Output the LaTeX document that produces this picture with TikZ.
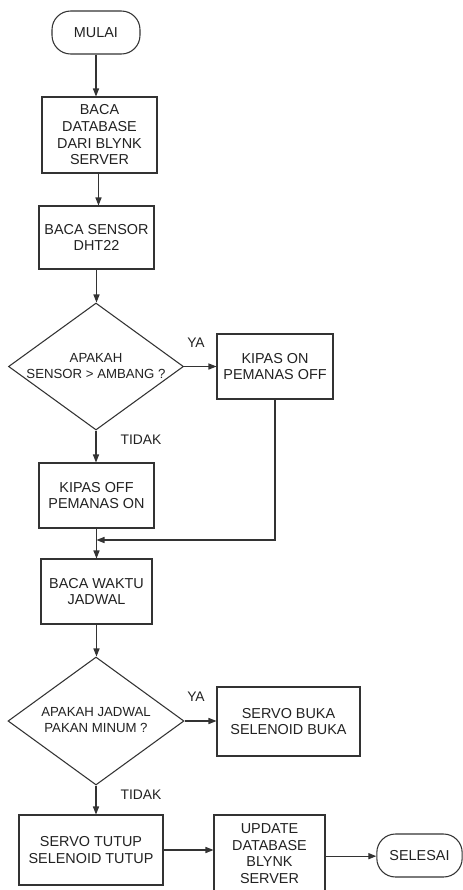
\documentclass[tikz,border=0pt]{standalone}
\usepackage{fontspec}
\setmainfont{Liberation Sans}
\usetikzlibrary{shapes.geometric,arrows.meta}
\definecolor{ln}{HTML}{333333}
\definecolor{tx}{HTML}{222222}
\tikzset{
  boxnode/.style={draw=ln, line width=0.8pt, rectangle, align=center, inner sep=0pt, text=tx, font=\fontsize{10.8}{12.5}\selectfont},
  termnode/.style={boxnode, rounded corners=14pt},
  decnode/.style={draw=ln, line width=0.8pt, diamond, inner sep=0pt},
  dectext/.style={align=center, inner sep=0pt, text=tx, font=\fontsize{9.9}{12.5}\selectfont},
  lbl/.style={inner sep=0pt, text=tx, font=\fontsize{10.4}{12.5}\selectfont},
  flow/.style={draw=ln, line width=0.8pt, -{Triangle[length=6pt,width=4.6pt]}}
}
\begin{document}
\begin{tikzpicture}[x=0.75pt,y=-0.75pt]
\fill[white] (0,0) rectangle (463,890);
\useasboundingbox (0,0) rectangle (463,890);
\clip (0,0) rectangle (463,890);

\node[termnode, minimum width=66pt, minimum height=32.25pt] (mulai) at (96,32.5) {MULAI};
\node[boxnode, minimum width=86.25pt, minimum height=57pt] (db) at (99.5,135) {BACA\\DATABASE\\DARI BLYNK\\SERVER};
\node[boxnode, minimum width=86.25pt, minimum height=47.25pt] (sensor) at (96.5,237.5) {BACA SENSOR\\DHT22};
\node[decnode, minimum width=131.25pt, minimum height=95.25pt] (d1) at (96,366.5) {};
\node[dectext] (d1t) at (96,366) {APAKAH\\SENSOR > AMBANG ?};
\node[boxnode, minimum width=87pt, minimum height=48.75pt] (kon) at (275,366.5) {KIPAS ON\\PEMANAS OFF};
\node[boxnode, minimum width=86.25pt, minimum height=48.75pt] (koff) at (96.5,495.5) {KIPAS OFF\\PEMANAS ON};
\node[boxnode, minimum width=83.25pt, minimum height=48.75pt] (waktu) at (96.5,591.5) {BACA WAKTU\\JADWAL};
\node[decnode, minimum width=132pt, minimum height=96pt] (d2) at (96,721) {};
\node[dectext] (d2t) at (96,720) {APAKAH JADWAL\\PAKAN MINUM ?};
\node[boxnode, minimum width=107.25pt, minimum height=51.75pt] (buka) at (288.5,721.5) {SERVO BUKA\\SELENOID BUKA};
\node[boxnode, minimum width=108pt, minimum height=52.5pt] (tutup) at (91,850) {SERVO TUTUP\\SELENOID TUTUP};
\node[boxnode, minimum width=83.25pt, minimum height=57.75pt] (upd) at (269.5,853.5) {UPDATE\\DATABASE\\BLYNK\\SERVER};
\node[termnode, minimum width=64pt, minimum height=32.25pt] (selesai) at (419.5,855.5) {SELESAI};

\coordinate (j1) at (96.5,540);

\draw[flow] (mulai.south) -- (mulai.south |- db.north);
\draw[flow] ([xshift=-0.75pt]db.south) -- ([xshift=-0.75pt]db.south |- sensor.north);
\draw[flow] (sensor.south) -- (sensor.south |- d1.north);
\draw[flow] (d1.east) -- (d1.east -| kon.west);
\draw[flow] (d1.south) -- (d1.south |- koff.north);
\draw[flow] (kon.south) |- (j1);
\draw[flow] (koff.south) -- (koff.south |- waktu.north);
\draw[flow] (waktu.south) -- (waktu.south |- d2.north);
\draw[flow] (d2.east) -- (d2.east -| buka.west);
\draw[flow] (d2.south) -- (d2.south |- tutup.north);
\draw[flow] (tutup.east) -- (tutup.east -| upd.west);
\draw[flow] ([yshift=-2pt]upd.east) -- ([yshift=-2pt]upd.east -| selesai.west);

\node[lbl] (ya1) at (196,343) {YA};
\node[lbl] (tidak1) at (141,440) {TIDAK};
\node[lbl] (ya2) at (196,697) {YA};
\node[lbl] (tidak2) at (141,795) {TIDAK};
\end{tikzpicture}
\end{document}
